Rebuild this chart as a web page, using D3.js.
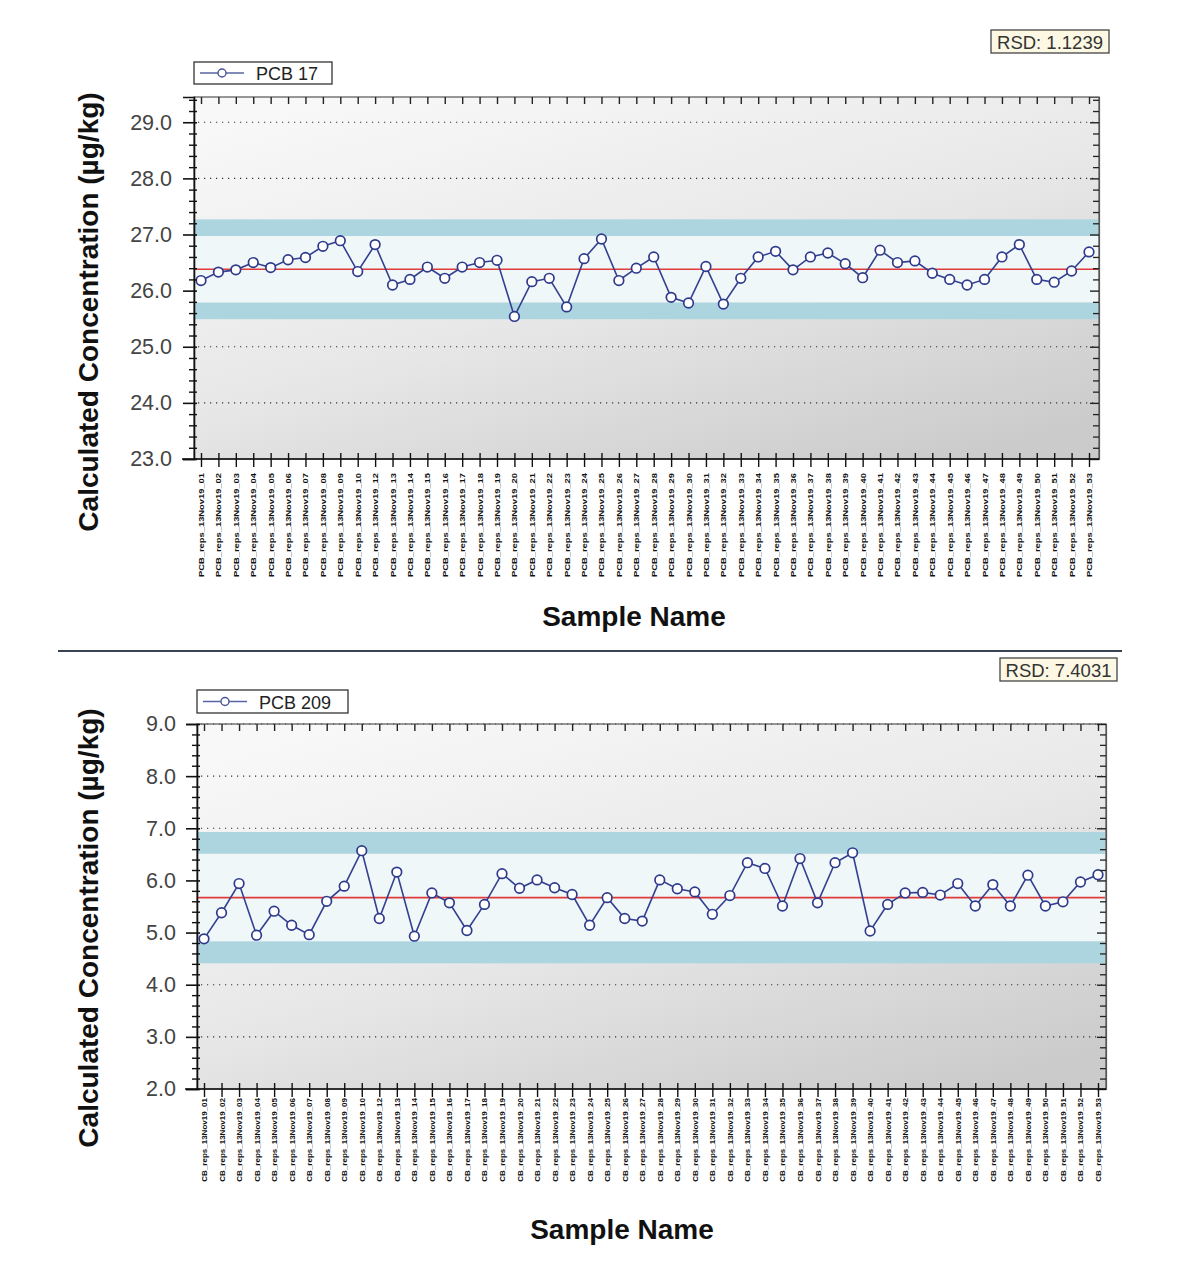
<!DOCTYPE html>
<html>
<head>
<meta charset="utf-8">
<script src="https://cdn.jsdelivr.net/npm/d3@7"></script>
<style>
  html, body { margin: 0; padding: 0; background: #ffffff; }
  svg { display: block; }
</style>
</head>
<body>
<svg id="chart" width="1194" height="1280"></svg>
<script>
// ---------------- DATA ----------------
const sampleIds = ["01","02","03","04","05","06","07","08","09","10",
  "12","13","14","15","16","17","18","19","20","21","22","23","24","25","26","27",
  "28","29","30","31","32","33","34","35","36","37","38","39","40","41","42","43",
  "44","45","46","47","48","49","50","51","52","53"];
const sampleNames = sampleIds.map(id => "PCB_reps_13Nov19_" + id);

const pcb17Values = [26.18,26.33,26.37,26.50,26.41,26.55,26.59,26.79,26.89,26.34,
  26.82,26.10,26.20,26.42,26.22,26.42,26.50,26.54,
  25.54,26.16,26.22,25.71,26.57,26.92,26.18,26.40,
  26.60,25.88,25.78,26.43,25.76,26.22,26.60,26.70,
  26.37,26.60,26.67,26.48,26.23,26.72,26.50,26.53,
  26.31,26.20,26.10,26.20,26.60,26.82,26.20,26.15,26.35,26.69];
const pcb17Mean = 26.38;
const pcb17Rsd = 1.1239;
const pcb17Ticks = [23, 24, 25, 26, 27, 28, 29];

const pcb209Values = [4.88,5.38,5.94,4.95,5.41,5.14,4.96,5.60,5.89,6.57,
  5.27,6.16,4.93,5.76,5.57,5.04,5.54,6.13,
  5.85,6.01,5.86,5.73,5.14,5.67,5.27,5.22,
  6.01,5.84,5.78,5.35,5.71,6.34,6.23,5.51,
  6.42,5.57,6.34,6.53,5.03,5.54,5.76,5.77,
  5.72,5.94,5.51,5.92,5.51,6.10,5.51,5.59,5.97,6.11];
const pcb209Mean = 5.67;
const pcb209Rsd = 7.4031;
const pcb209Ticks = [2, 3, 4, 5, 6, 7, 8, 9];

const yAxisTitle = "Calculated Concentration (\u00b5g/kg)";
const xAxisTitle = "Sample Name";

// ---------------- DRAW ----------------
const svg = d3.select("#chart");
const defs = svg.append("defs");
const FONT = "'Liberation Sans', Arial, Helvetica, sans-serif";

function drawPanel(cfg) {
  const g = svg.append("g");
  const x = d3.scalePoint().domain(sampleNames).range([cfg.px0, cfg.px1]);
  const y = d3.scaleLinear().domain(cfg.yDomain).range([cfg.bottom, cfg.top]);
  const pw = cfg.right - cfg.left, ph = cfg.bottom - cfg.top;

  // gradient background
  const gid = "bg" + cfg.id;
  const grad = defs.append("linearGradient").attr("id", gid)
    .attr("x1", 0.15).attr("y1", 0).attr("x2", 0.85).attr("y2", 1);
  grad.append("stop").attr("offset", 0).attr("stop-color", "#f8f8f8");
  grad.append("stop").attr("offset", 0.5).attr("stop-color", "#e8e8e8");
  grad.append("stop").attr("offset", 1).attr("stop-color", "#cbcbcb");
  g.append("rect").attr("x", cfg.left).attr("y", cfg.top)
    .attr("width", pw).attr("height", ph).attr("fill", `url(#${gid})`);

  // dotted grid
  g.append("g").selectAll("line").data(cfg.ticks.filter(t => t > cfg.yDomain[0] && t < cfg.yDomain[1] + 1e-9))
    .join("line")
    .attr("x1", cfg.left + 4).attr("x2", cfg.right - 4)
    .attr("y1", d => y(d)).attr("y2", d => y(d))
    .attr("stroke", "#333").attr("stroke-width", 1.1)
    .attr("stroke-dasharray", "1.2,4.8");

  // control bands
  const sd = cfg.mean * cfg.rsd / 100;
  const bandColor = "#acd5df";
  g.append("rect").attr("x", cfg.left + 1).attr("width", pw - 2)
    .attr("y", y(cfg.mean + 3 * sd)).attr("height", y(cfg.mean + 2 * sd) - y(cfg.mean + 3 * sd))
    .attr("fill", bandColor);
  g.append("rect").attr("x", cfg.left + 1).attr("width", pw - 2)
    .attr("y", y(cfg.mean + 2 * sd)).attr("height", y(cfg.mean - 2 * sd) - y(cfg.mean + 2 * sd))
    .attr("fill", "#eff7f8");
  g.append("rect").attr("x", cfg.left + 1).attr("width", pw - 2)
    .attr("y", y(cfg.mean - 2 * sd)).attr("height", y(cfg.mean - 3 * sd) - y(cfg.mean - 2 * sd))
    .attr("fill", bandColor);

  // mean line
  g.append("line").attr("x1", cfg.left + 1).attr("x2", cfg.right - 1)
    .attr("y1", y(cfg.mean)).attr("y2", y(cfg.mean))
    .attr("stroke", "#e03a3a").attr("stroke-width", 1.6);

  // series
  const pts = sampleNames.map((n, i) => ({ n, v: cfg.values[i] }));
  g.append("path").datum(pts)
    .attr("d", d3.line().x(d => x(d.n)).y(d => y(d.v)))
    .attr("fill", "none").attr("stroke", "#34408f").attr("stroke-width", 1.6);
  g.append("g").selectAll("circle").data(pts).join("circle")
    .attr("cx", d => x(d.n)).attr("cy", d => y(d.v)).attr("r", 4.8)
    .attr("fill", "#ffffff").attr("stroke", "#2e3a8c").attr("stroke-width", 1.7);

  // frame
  g.append("rect").attr("x", cfg.left).attr("y", cfg.top)
    .attr("width", pw).attr("height", ph)
    .attr("fill", "none").attr("stroke", "#555").attr("stroke-width", 1.2);

  const minors = d3.range(cfg.yDomain[0], cfg.yDomain[1] + 1e-6, 0.2)
    .map(v => Math.round(v * 10) / 10)
    .filter(v => !cfg.ticks.some(t => Math.abs(t - v) < 1e-6));

  // left axis (major)
  const leftMajor = g.append("g").attr("transform", `translate(${cfg.left},0)`)
    .call(d3.axisLeft(y).tickValues(cfg.ticks).tickSize(11).tickPadding(10)
      .tickFormat(d3.format(".1f")));
  leftMajor.select(".domain").attr("stroke", "#111").attr("stroke-width", 1.6);
  leftMajor.selectAll(".tick line").attr("x2", -11).attr("x1", 3).attr("stroke", "#111").attr("stroke-width", 1.6);
  leftMajor.selectAll(".tick text").attr("font-family", FONT).attr("font-size", 21.5)
    .attr("fill", "#444").attr("x", -cfg.labelGap);
  // left axis (minor)
  const leftMinor = g.append("g").attr("transform", `translate(${cfg.left},0)`)
    .call(d3.axisLeft(y).tickValues(minors).tickSize(5).tickFormat(""));
  leftMinor.select(".domain").remove();
  leftMinor.selectAll(".tick line").attr("x1", 3).attr("stroke", "#111").attr("stroke-width", 1.4);

  // right axis (inward ticks)
  const rightMajor = g.append("g").attr("transform", `translate(${cfg.right},0)`)
    .call(d3.axisRight(y).tickValues(cfg.ticks).tickSize(-9).tickFormat(""));
  rightMajor.select(".domain").attr("stroke", "#555").attr("stroke-width", 1.2);
  rightMajor.selectAll(".tick line").attr("stroke", "#222").attr("stroke-width", 1.4);
  const rightMinor = g.append("g").attr("transform", `translate(${cfg.right},0)`)
    .call(d3.axisRight(y).tickValues(minors).tickSize(-6).tickFormat(""));
  rightMinor.select(".domain").remove();
  rightMinor.selectAll(".tick line").attr("stroke", "#222").attr("stroke-width", 1.3);

  // top axis (inward ticks)
  const topAx = g.append("g").attr("transform", `translate(0,${cfg.top})`)
    .call(d3.axisTop(x).tickSize(-7).tickFormat(""));
  topAx.select(".domain").remove();
  topAx.selectAll(".tick line").attr("stroke", "#222").attr("stroke-width", 1.4);

  // bottom axis (labels clipped like the reference)
  const clipId = "clip" + cfg.id;
  defs.append("clipPath").attr("id", clipId).append("rect")
    .attr("x", 0).attr("y", cfg.bottom - 20).attr("width", 1194).attr("height", cfg.labelClip - cfg.bottom + 20);
  const clipG = g.append("g").attr("clip-path", `url(#${clipId})`);
  const botAx = clipG.append("g").attr("transform", `translate(0,${cfg.bottom})`)
    .call(d3.axisBottom(x).tickSize(8).tickPadding(0));
  botAx.select(".domain").remove();
  g.append("line").attr("x1", cfg.left - 12).attr("x2", cfg.right)
    .attr("y1", cfg.bottom).attr("y2", cfg.bottom)
    .attr("stroke", "#111").attr("stroke-width", 1.6);
  botAx.selectAll(".tick line").attr("y1", -6).attr("stroke", "#111").attr("stroke-width", 1.4);
  botAx.selectAll(".tick text")
    .attr("transform", "rotate(-90)")
    .attr("text-anchor", "end")
    .attr("dominant-baseline", "central")
    .attr("dy", null)
    .attr("x", -cfg.labelOffset).attr("y", 0)
    .attr("font-family", FONT).attr("font-size", 7.8).attr("font-weight", "bold")
    .attr("fill", "#111")
    .attr("textLength", cfg.labelLen).attr("lengthAdjust", "spacingAndGlyphs");

  // axis titles
  svg.append("text").attr("transform", `translate(${cfg.yTitleX},${cfg.yTitleY}) rotate(-90)`)
    .attr("text-anchor", "middle").attr("dominant-baseline", "central")
    .attr("font-family", FONT).attr("font-size", 28).attr("font-weight", "bold")
    .attr("fill", "#111").text(yAxisTitle);
  svg.append("text").attr("x", cfg.xTitleX).attr("y", cfg.xTitleY)
    .attr("text-anchor", "middle")
    .attr("font-family", FONT).attr("font-size", 28).attr("font-weight", "bold")
    .attr("fill", "#111").text(xAxisTitle);

  // legend
  const lg = svg.append("g");
  lg.append("rect").attr("x", cfg.lgX).attr("y", cfg.lgY).attr("width", cfg.lgW).attr("height", cfg.lgH)
    .attr("fill", "#ffffff").attr("stroke", "#333").attr("stroke-width", 1.3);
  const ly = cfg.lgY + cfg.lgH / 2;
  lg.append("line").attr("x1", cfg.lgX + 6).attr("x2", cfg.lgX + 50).attr("y1", ly).attr("y2", ly)
    .attr("stroke", "#5a64a4").attr("stroke-width", 1.5);
  lg.append("circle").attr("cx", cfg.lgX + 28).attr("cy", ly).attr("r", 4)
    .attr("fill", "#fff").attr("stroke", "#4a5498").attr("stroke-width", 1.4);
  lg.append("text").attr("x", cfg.lgX + 62).attr("y", ly + 1).attr("dominant-baseline", "central")
    .attr("font-family", FONT).attr("font-size", 18).attr("fill", "#222").text(cfg.name);

  // RSD box
  const rg = svg.append("g");
  rg.append("rect").attr("x", cfg.rsdX).attr("y", cfg.rsdY).attr("width", cfg.rsdW).attr("height", 23)
    .attr("fill", "#fcf8e3").attr("stroke", "#444").attr("stroke-width", 1.3);
  rg.append("text").attr("x", cfg.rsdX + cfg.rsdW / 2).attr("y", cfg.rsdY + 12.5)
    .attr("text-anchor", "middle").attr("dominant-baseline", "central")
    .attr("font-family", FONT).attr("font-size", 18.5).attr("fill", "#333")
    .text("RSD: " + cfg.rsd.toFixed(4));
}

drawPanel({
  id: "a", name: "PCB 17", values: pcb17Values, mean: pcb17Mean, rsd: pcb17Rsd, ticks: pcb17Ticks,
  left: 194, right: 1099, top: 97, bottom: 459, yDomain: [23, 29.45],
  px0: 201, px1: 1089, labelGap: 22, labelOffset: 14, labelLen: 104, labelClip: 1280,
  yTitleX: 88, yTitleY: 312, xTitleX: 634, xTitleY: 626,
  lgX: 194, lgY: 62, lgW: 138, lgH: 22,
  rsdX: 991, rsdY: 30, rsdW: 118
});

drawPanel({
  id: "b", name: "PCB 209", values: pcb209Values, mean: pcb209Mean, rsd: pcb209Rsd, ticks: pcb209Ticks,
  left: 197, right: 1106, top: 724, bottom: 1089, yDomain: [2, 9],
  px0: 204, px1: 1098, labelGap: 21, labelOffset: 9, labelLen: 89, labelClip: 1182,
  yTitleX: 88, yTitleY: 928, xTitleX: 622, xTitleY: 1239,
  lgX: 197, lgY: 690, lgW: 151, lgH: 23,
  rsdX: 1000, rsdY: 658, rsdW: 117
});

// separator between the panels
svg.append("line").attr("x1", 58).attr("x2", 1122).attr("y1", 651).attr("y2", 651)
  .attr("stroke", "#3a4352").attr("stroke-width", 2);
</script>
</body>
</html>
